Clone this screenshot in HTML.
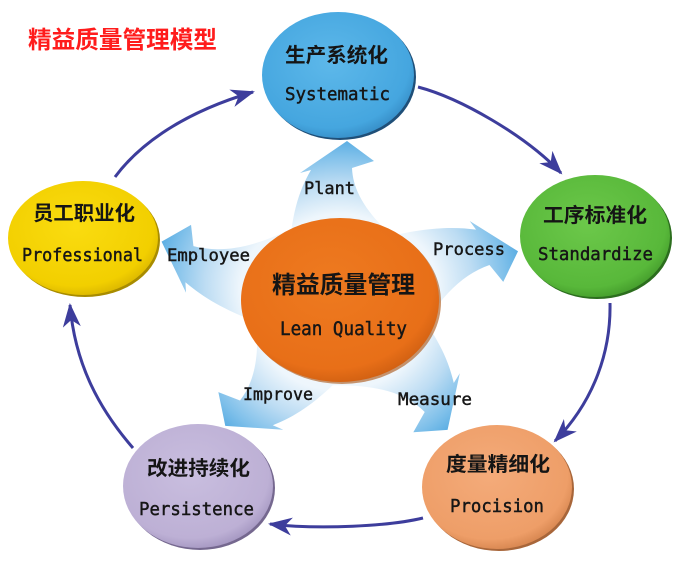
<!DOCTYPE html>
<html><head><meta charset="utf-8"><style>
html,body{margin:0;padding:0;background:#fff;}
svg{display:block;}
.cn{font-family:"Liberation Sans","Noto Sans CJK SC",sans-serif;font-weight:bold;fill:#151515;}
.en{font-family:"DejaVu Sans Mono","Liberation Mono",monospace;fill:#161616;stroke:#161616;stroke-width:0.45px;}
</style></head><body>
<svg width="681" height="565" viewBox="0 0 681 565" xmlns="http://www.w3.org/2000/svg">
<defs>
  <radialGradient id="star" gradientUnits="userSpaceOnUse" cx="340" cy="300" r="172">
    <stop offset="0" stop-color="#ffffff"/>
    <stop offset="0.5" stop-color="#eef6fc"/>
    <stop offset="0.68" stop-color="#bcdcf3"/>
    <stop offset="0.84" stop-color="#7fc0ea"/>
    <stop offset="1" stop-color="#3e9fdd"/>
  </radialGradient>
  <radialGradient id="gBlue" cx="0.45" cy="0.4" r="0.65">
    <stop offset="0" stop-color="#5db8ea"/><stop offset="0.8" stop-color="#45a6df"/><stop offset="1" stop-color="#3286c0"/>
  </radialGradient>
  <radialGradient id="gGreen" cx="0.45" cy="0.4" r="0.65">
    <stop offset="0" stop-color="#6cc84a"/><stop offset="0.8" stop-color="#58b83a"/><stop offset="1" stop-color="#3f9528"/>
  </radialGradient>
  <radialGradient id="gYellow" cx="0.45" cy="0.4" r="0.65">
    <stop offset="0" stop-color="#fadc10"/><stop offset="0.8" stop-color="#f2cf00"/><stop offset="1" stop-color="#d4b000"/>
  </radialGradient>
  <radialGradient id="gPurple" cx="0.45" cy="0.4" r="0.65">
    <stop offset="0" stop-color="#c9bedf"/><stop offset="0.8" stop-color="#bdb0d5"/><stop offset="1" stop-color="#9d8fbb"/>
  </radialGradient>
  <radialGradient id="gPeach" cx="0.45" cy="0.4" r="0.65">
    <stop offset="0" stop-color="#f4ab7a"/><stop offset="0.8" stop-color="#ee9e68"/><stop offset="1" stop-color="#cf7e48"/>
  </radialGradient>
  <radialGradient id="gOrange" cx="0.45" cy="0.4" r="0.65">
    <stop offset="0" stop-color="#ee7a20"/><stop offset="0.8" stop-color="#e86f18"/><stop offset="1" stop-color="#c95b10"/>
  </radialGradient>
  <marker id="ah" markerUnits="userSpaceOnUse" markerWidth="30" markerHeight="30" viewBox="-26 -13 30 26" refX="0" refY="0" orient="auto">
    <path d="M2,0 L-22,-9 L-15,0 L-22,9 Z" fill="#3d3d9c"/>
  </marker>
</defs>

<!-- Title -->
<text x="28" y="48" font-size="24" textLength="189" lengthAdjust="spacingAndGlyphs" style="font-family:'Liberation Sans','Noto Sans CJK SC',sans-serif;font-weight:bold;fill:#ff1c1c;">精益质量管理模型</text>

<!-- cycle arrows -->
<g fill="none" stroke="#3d3d9c" stroke-width="3" marker-end="url(#ah)">
  <path d="M115,177 C135,150 175,115 253,92"/>
  <path d="M418,87 C460,98 525,135 561,173"/>
  <path d="M610,303 C611,350 595,400 555,441"/>
  <path d="M423,518 C390,526 320,530 270,524"/>
  <path d="M133,448 C100,410 75,365 70,305"/>
</g>

<!-- pinwheel star arrows -->
<g fill="url(#star)">
  <path d="M289,252 C292,215 298,192 311,170 L300,173 L347,141 L374,161 L352,168 C353,195 372,222 414,254 Z"/>
  <path transform="translate(340 300) rotate(72.7) scale(0.92 1.16) translate(-340 -300)" d="M289,252 C292,215 298,192 311,170 L300,173 L347,141 L374,161 L352,168 C353,195 372,222 414,254 Z"/>
  <path transform="translate(340 300) rotate(138) scale(1 1.06) translate(-340 -300)" d="M289,252 C292,215 298,192 311,170 L300,173 L347,141 L374,161 L352,168 C353,195 372,222 414,254 Z"/>
  <path transform="translate(340 300) rotate(220) scale(1 1.07) translate(-340 -300)" d="M289,252 C292,215 298,192 311,170 L300,173 L347,141 L374,161 L352,168 C353,195 372,222 414,254 Z"/>
  <path transform="translate(340 300) rotate(286.2) scale(0.9 1.18) translate(-340 -300)" d="M289,252 C292,215 298,192 311,170 L300,173 L347,141 L374,161 L352,168 C353,195 372,222 414,254 Z"/>
</g>

<!-- star labels -->
<text class="en" x="304" y="194" font-size="17" textLength="51" lengthAdjust="spacingAndGlyphs">Plant</text>
<text class="en" x="433" y="255" font-size="17" textLength="72" lengthAdjust="spacingAndGlyphs">Process</text>
<text class="en" x="167" y="261" font-size="17" textLength="83" lengthAdjust="spacingAndGlyphs">Employee</text>
<text class="en" x="243" y="400" font-size="17" textLength="70" lengthAdjust="spacingAndGlyphs">Improve</text>
<text class="en" x="398" y="405" font-size="17" textLength="74" lengthAdjust="spacingAndGlyphs">Measure</text>

<!-- center ellipse -->
<ellipse cx="342" cy="302" rx="99" ry="82" fill="#a8500e" opacity="0.6"/>
<ellipse cx="340" cy="300" rx="99" ry="82" fill="url(#gOrange)"/>
<text class="cn" x="272" y="293" font-size="24" textLength="143" lengthAdjust="spacingAndGlyphs">精益质量管理</text>
<text class="en" x="280" y="335" font-size="19" textLength="127" lengthAdjust="spacingAndGlyphs">Lean Quality</text>

<!-- Blue: Systematic -->
<ellipse cx="340" cy="77" rx="76" ry="63" fill="#1f4f78"/>
<ellipse cx="338" cy="75" rx="76" ry="63" fill="url(#gBlue)"/>
<text class="cn" x="285" y="62" font-size="20" textLength="103" lengthAdjust="spacingAndGlyphs">生产系统化</text>
<text class="en" x="285" y="100" font-size="18" textLength="105" lengthAdjust="spacingAndGlyphs">Systematic</text>

<!-- Green: Standardize -->
<ellipse cx="597" cy="238" rx="75" ry="61" fill="#2c6e1e"/>
<ellipse cx="595" cy="236" rx="75" ry="61" fill="url(#gGreen)"/>
<text class="cn" x="543" y="222" font-size="20" textLength="104" lengthAdjust="spacingAndGlyphs">工序标准化</text>
<text class="en" x="538" y="260" font-size="18" textLength="115" lengthAdjust="spacingAndGlyphs">Standardize</text>

<!-- Yellow: Professional -->
<ellipse cx="85" cy="240" rx="75" ry="57" fill="#a88c00"/>
<ellipse cx="83" cy="238" rx="75" ry="57" fill="url(#gYellow)"/>
<text class="cn" x="33" y="220" font-size="20" textLength="102" lengthAdjust="spacingAndGlyphs">员工职业化</text>
<text class="en" x="22" y="261" font-size="18" textLength="121" lengthAdjust="spacingAndGlyphs">Professional</text>

<!-- Purple: Persistence -->
<ellipse cx="200" cy="488" rx="75" ry="62" fill="#75688f"/>
<ellipse cx="198" cy="486" rx="75" ry="62" fill="url(#gPurple)"/>
<text class="cn" x="147" y="475" font-size="20" textLength="103" lengthAdjust="spacingAndGlyphs">改进持续化</text>
<text class="en" x="139" y="515" font-size="18" textLength="115" lengthAdjust="spacingAndGlyphs">Persistence</text>

<!-- Peach: Procision -->
<ellipse cx="499" cy="489" rx="75" ry="62" fill="#a8663a"/>
<ellipse cx="497" cy="487" rx="75" ry="62" fill="url(#gPeach)"/>
<text class="cn" x="446" y="471" font-size="20" textLength="104" lengthAdjust="spacingAndGlyphs">度量精细化</text>
<text class="en" x="450" y="512" font-size="18" textLength="94" lengthAdjust="spacingAndGlyphs">Procision</text>
</svg>
</body></html>
